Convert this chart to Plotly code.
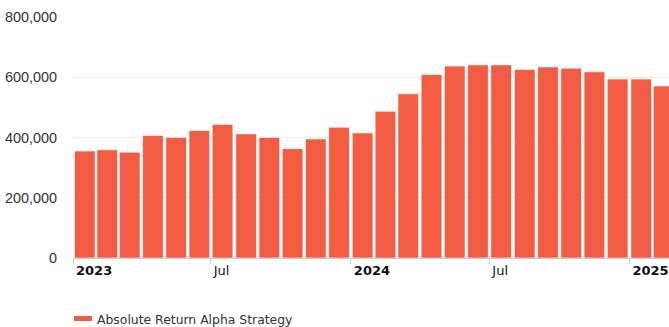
import plotly.graph_objects as go

months = ["2023-01-01", "2023-02-01", "2023-03-01", "2023-04-01", "2023-05-01", "2023-06-01",
          "2023-07-01", "2023-08-01", "2023-09-01", "2023-10-01", "2023-11-01", "2023-12-01",
          "2024-01-01", "2024-02-01", "2024-03-01", "2024-04-01", "2024-05-01", "2024-06-01",
          "2024-07-01", "2024-08-01", "2024-09-01", "2024-10-01", "2024-11-01", "2024-12-01",
          "2025-01-01", "2025-02-01"]
values = [355000, 359000, 351000, 407000, 400000, 423000,
          443000, 412000, 400000, 363000, 395000, 434000,
          415000, 487000, 545000, 609000, 637000, 641000,
          641000, 626000, 634000, 630000, 618000, 594000,
          594000, 571000]
series_name = "Absolute Return Alpha Strategy"

x_tick_vals = ["2023-01-01", "2023-07-01", "2024-01-01", "2024-07-01", "2025-01-01"]
x_tick_text = ["<b>2023</b>", "Jul", "<b>2024</b>", "Jul", "<b>2025</b>"]
y_tick_vals = [0, 200000, 400000, 600000, 800000]
y_tick_text = ["0", "200,000", "400,000", "600,000", "800,000"]

BAR = "#F15C43"
W, H = 669, 327
ML, MR, MT, MB = 73, 0, 17, 69
PW, PH = W - ML - MR, H - MT - MB

fig = go.Figure()
fig.add_trace(go.Bar(
    x=months, y=values, name=series_name,
    xperiod="M1", xperiodalignment="middle",
    marker=dict(color=BAR, line=dict(color="rgba(255,255,255,0.6)", width=1)),
    showlegend=False,
))

def px_x(p):
    return (p - ML) / PW

def px_y(p):
    return (H - MB - p) / PH

fig.add_shape(type="rect", xref="paper", yref="paper",
              x0=px_x(74), x1=px_x(92), y0=px_y(321), y1=px_y(316),
              fillcolor=BAR, line=dict(width=0))
fig.add_annotation(text=series_name, xref="paper", yref="paper",
                   x=px_x(95), y=px_y(319.5), xanchor="left", yanchor="middle",
                   showarrow=False, font=dict(family="DejaVu Sans", size=12.4, color="#333333"))

fig.update_layout(
    width=W, height=H,
    margin=dict(l=ML, r=MR, t=MT, b=MB),
    paper_bgcolor="white", plot_bgcolor="white",
    bargap=0.08,
    xaxis=dict(
        type="date", range=["2023-01-01", "2025-02-22"],
        tickvals=x_tick_vals, ticktext=x_tick_text,
        ticks="outside", ticklen=5, tickcolor="#cccccc",
        ticklabelposition="outside right", ticklabelshift=2,
        showline=True, linecolor="#cccccc", linewidth=1,
        showgrid=False, zeroline=False,
        tickfont=dict(family="DejaVu Sans", size=13, color="#111111"),
    ),
    yaxis=dict(
        range=[0, 800000],
        tickvals=y_tick_vals, ticktext=y_tick_text,
        showgrid=True, gridcolor="#eeeeee", gridwidth=1,
        zeroline=False, showline=False, ticks="",
        ticklabelstandoff=15,
        tickfont=dict(family="Liberation Sans", size=14.4, color="#333333"),
    ),
)

fig.write_html("out.html")
